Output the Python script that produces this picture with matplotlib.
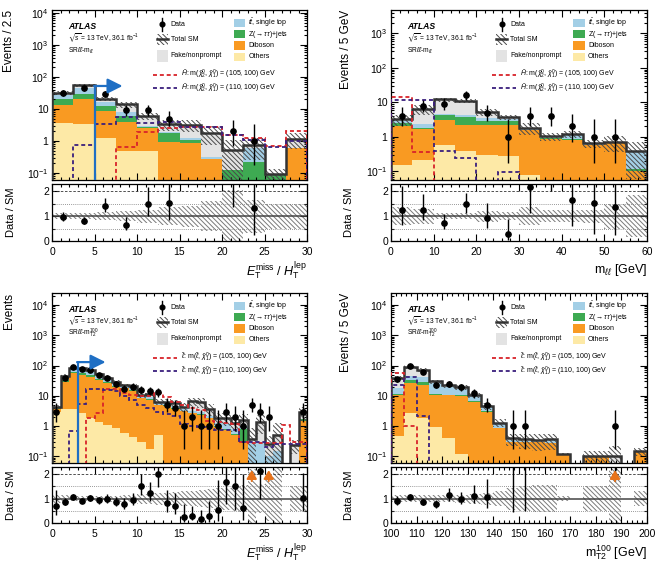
import numpy as np
import matplotlib
matplotlib.use('Agg')
import matplotlib.pyplot as plt
from matplotlib.patches import Rectangle
from matplotlib.ticker import MultipleLocator, LogLocator, NullFormatter, FixedLocator, FuncFormatter

plt.rcParams['font.family'] = ['Liberation Sans', 'DejaVu Sans']
plt.rcParams['mathtext.fontset'] = 'custom'
plt.rcParams['mathtext.rm'] = 'Liberation Sans'
plt.rcParams['mathtext.it'] = 'Liberation Sans:italic'
plt.rcParams['mathtext.bf'] = 'Liberation Sans:bold'
plt.rcParams['mathtext.fallback'] = 'stixsans'
plt.rcParams['hatch.linewidth'] = 0.7

# ---------------- data ----------------
# Panel 1: SRll-mll, ETmiss/HTlep
p1_edges = [0, 2.5, 5, 7.5, 10, 12.5, 15, 17.5, 20, 22.5, 25, 27.5, 30]
p1_others = [3.6, 3.3, 1.2, 0.5, 0.5, 0, 0, 0, 0, 0, 0, 0]
p1_diboson = [10, 16.7, 7.6, 3.5, 2.0, 0.95, 0.85, 0.27, 0, 0, 0, 0.6]
p1_ztt = [7, 9.5, 3.7, 2.2, 0.2, 0.8, 0.22, 0, 0.12, 0.22, 0.09, 0]
p1_ttbar = [6.4, 15, 4.5, 1.7, 0.3, 0.15, 0.2, 0.05, 0, 0.4, 0, 0]
p1_fake = [5, 10, 3.5, 5.9, 3.0, 1.4, 1.9, 1.5, 0.4, 0.13, 0, 0.55]
p1_unc = [0.12, 0.12, 0.15, 0.2, 0.27, 0.37, 0.42, 0.6, 1.07, 0.67, 0.5, 0.5]
p1_data = [31, 44, 29, 9, 9, 5, 0, 0, 2, 1, 0, 0]
p1_sig105 = [0, 0, 0, 0.65, 1.85, 2.6, 2.8, 2.7, 1.5, 1.2, 0.7, 2.0]
p1_sig110 = [0, 0.75, 3.3, 5.5, 3.7, 4.0, 2.8, 2.8, 1.5, 1.1, 0.65, 1.0]

# Panel 2: SRll-mll, mll
p2_edges = [0, 5, 10, 15, 20, 25, 30, 35, 40, 45, 50, 55, 60]
p2_others = [0.15, 0.21, 0.6, 0.38, 0.3, 0.27, 0.08, 0, 0, 0, 0, 0]
p2_diboson = [1.85, 1.5, 2.5, 1.9, 1.9, 1.9, 1.5, 0.85, 0.8, 0.6, 0.65, 0.1]
p2_ztt = [0.6, 0.1, 1.2, 1.6, 0.6, 0.8, 0.05, 0.08, 0.05, 0, 0, 0.02]
p2_ttbar = [0.2, 0.5, 0.3, 0.4, 0.7, 0.3, 0.22, 0.1, 0.35, 0.05, 0.07, 0.27]
p2_fake = [0.4, 4.0, 7.6, 6.5, 1.9, 0.5, 0, 0, 0, 0, 0, 0]
p2_unc = [0.37, 0.3, 0.13, 0.13, 0.23, 0.17, 0.37, 0.25, 0.25, 0.27, 0.5, 0.85]
p2_data = [4, 8, 9, 16, 5, 1, 4, 4, 2, 1, 1, 0]
p2_sig105 = [14, 0.36, 0, 0, 0, 0, 0, 0, 0, 0, 0, 0]
p2_sig110 = [12, 12, 0.38, 0.25, 0, 0.093, 0, 0, 0, 0, 0, 0]

# Panel 3: SRll-mT2, ETmiss/HTlep
p3_edges = list(range(0, 31))
p3_others = [3.0, 3.8, 3.8, 2.6, 1.8, 1.4, 1.1, 0.85, 0.6, 0.44, 0.29, 0.18, 0.5, 0, 0,
             0, 0, 0, 0, 0, 0, 0, 0, 0, 0, 0, 0, 0, 0, 0]
p3_diboson = [0.7, 25, 51, 46, 41, 31.5, 25, 19, 17, 14, 8, 7, 4.3, 4.6, 3.7,
              3.1, 2.6, 2.4, 1.8, 0.95, 0.74, 0.5, 0.3, 0.03, 0.05, 0, 0.05, 0, 0, 1.5]
p3_ztt = [0.5, 4, 8, 6, 5, 3, 2, 1.5, 1, 1, 0.4, 0.4, 0.2, 0.2, 0.2,
          0.1, 0.1, 0.1, 0.05, 0.05, 0.05, 0.05, 0.5, 0, 0, 0, 0, 0, 0, 0.2]
p3_ttbar = [0.1, 7, 15, 17, 14, 10, 8, 5, 2.4, 3, 1, 1.3, 0.7, 0.6, 0.7,
            0.4, 0.5, 0.4, 0.35, 0.3, 0.4, 0.25, 0.2, 0.25, 0.25, 0.1, 0.1, 0, 0.05, 0]
p3_fake = [0.1, 5, 8, 10, 7, 7, 4, 3, 1, 2.5, 0.8, 2.3, 0.7, 0.8, 1.2,
           0.7, 3.3, 3.3, 1.5, 0.55, 0.61, 0.5, 0.64, 0.1, 1.1, 0.15, 0.35, 0, 0.18, 1.2]
p3_unc = [0.17, 0.13, 0.1, 0.1, 0.1, 0.1, 0.12, 0.12, 0.13, 0.15, 0.2, 0.2, 0.25, 0.25, 0.28,
          0.3, 0.3, 0.35, 0.4, 0.45, 0.45, 0.5, 0.55, 1.2, 0.6, 0.9, 1.5, 0, 0.5, 0.5]
p3_data = [3, 39, 90, 75, 71, 49, 40, 25, 17, 20, 16, 14, 13, 5, 4,
           1, 2, 1, 1, 1, 3, 2, 1, 5, 3, 2, 0, 0, 0, 3]
p3_sig105 = [0, 0, 0, 0, 1.8, 2.6, 17, 17, 12, 11, 10, 10, 12, 9, 6,
             5, 4, 3.5, 1.5, 1.4, 1.3, 1.2, 0.3, 0.27, 0.27, 0.27, 0.27, 1.07, 0.3, 0.3]
p3_sig110 = [0, 0, 0.68, 5.3, 17, 17, 15, 14, 10, 7, 5, 4, 3, 2.5, 2.2,
             1.2, 1.0, 0.9, 0.8, 0.75, 0.75, 0.75, 0.29, 0.29, 0.29, 0.2, 0.25, 0.25, 0.25, 0.25]

# Panel 4: SRll-mT2, mT2^100
p4_edges = list(range(100, 205, 5))
p4_others = [0.47, 2.8, 1.8, 0.95, 0.4, 0.12, 0, 0, 0, 0, 0, 0, 0, 0, 0, 0, 0, 0, 0, 0]
p4_diboson = [10, 23, 21, 9.7, 10, 10, 6.4, 3, 0.85, 0.3, 0.3, 0.3, 0.27, 0.12, 0, 0.1, 0.1, 0, 0, 0.15]
p4_ztt = [1, 7, 6, 0.8, 0.5, 0.3, 0.2, 0.1, 0, 0, 0, 0, 0, 0, 0, 0, 0, 0, 0, 0]
p4_ttbar = [7, 12, 12, 15, 9, 6, 3.3, 1.3, 0.35, 0.05, 0.03, 0.02, 0.09, 0, 0, 0, 0, 0, 0, 0]
p4_fake = [20, 48, 29, 3.5, 2, 2.5, 0.8, 0.2, 0.1, 0.04, 0.03, 0.02, 0, 0, 0, 0, 0, 0.1, 0, 0]
p4_unc = [0.15, 0.15, 0.15, 0.15, 0.15, 0.17, 0.2, 0.25, 0.3, 0.45, 0.5, 0.55, 0.55, 0.1, 0,
          0.5, 0.5, 1.2, 1.2, 0.3]
p4_data = [35, 100, 60, 23, 25, 19, 12, 5, 0, 1, 1, 0, 0, 0, 0, 0, 0, 1, 0, 0]
p4_sig105 = [58, 1.0, 0, 0, 0, 0, 0, 0, 0, 0, 0, 0, 0, 0, 0, 0, 0, 0, 0, 0]
p4_sig110 = [23, 41, 2.1, 0, 0, 0, 0, 0, 0, 0, 0, 0, 0, 0, 0, 0, 0, 0, 0, 0]

# ---------------- style ----------------
C_OTH = '#fde9a6'
C_DIB = '#f99a22'
C_ZTT = '#3eaa52'
C_TTB = '#a3cfe6'
C_FAKE = '#e3e3e3'
C_RED = '#d8232a'
C_PUR = '#3a1f7d'
C_BLUE = '#1f6fc4'
HATCH = '\\' * 7

W, H = 656, 567
fig = plt.figure(figsize=(W / 100, H / 100), dpi=100)


def fbox(x0, y0, x1, y1):
    return [x0 / W, 1 - y1 / H, (x1 - x0) / W, (y1 - y0) / H]


def step_xy(edges, vals):
    e = np.asarray(edges, float)
    v = np.asarray(vals, float)
    x = np.repeat(e, 2)[1:-1]
    y = np.repeat(v, 2)
    return x, y


def garwood(n):
    n = np.asarray(n, float)
    nn = np.maximum(n, 1)
    lo = np.where(n > 0, nn * (1 - 1 / (9 * nn) - 1 / (3 * np.sqrt(nn))) ** 3, 0)
    m = n + 1
    hi = m * (1 - 1 / (9 * m) + 1 / (3 * np.sqrt(m))) ** 3
    return lo, hi


def log_fmt(v, pos):
    e = int(round(np.log10(v)))
    if e == 0:
        return '1'
    if e == 1:
        return '10'
    return r'10$^{%d}$' % e


def draw_panel(main_box, ratio_box, edges, comps, unc, data, sig105, sig110, ylim,
               xmaj, xmin, xlabel, ylabel, region, sig_kind, arrow=None, ratio_arrows=False,
               ylab_x=(8, 11), xlab_y=270):
    edges = np.asarray(edges, float)
    ax = fig.add_axes(main_box)
    rx = fig.add_axes(ratio_box)
    floor = 1e-5
    bottom = np.zeros(len(edges) - 1)
    for vals, col in zip(comps, [C_OTH, C_DIB, C_ZTT, C_TTB, C_FAKE]):
        top = bottom + np.asarray(vals, float)
        x, ylo = step_xy(edges, np.maximum(bottom, floor))
        _, yhi = step_xy(edges, np.maximum(top, floor))
        ax.fill_between(x, ylo, yhi, facecolor=col, linewidth=0, zorder=1)
        bottom = top
    total = bottom
    u = np.asarray(unc, float)
    x, blo = step_xy(edges, np.maximum(total * (1 - u), floor))
    _, bhi = step_xy(edges, np.maximum(total * (1 + u), floor))
    ax.fill_between(x, blo, bhi, facecolor='none', edgecolor='#4a4a4a', hatch=HATCH,
                    linewidth=0, zorder=2)
    ax.stairs(np.maximum(total, floor), edges, color='#333333', linewidth=1.8, zorder=3)
    ax.stairs(np.maximum(np.asarray(sig105, float), floor), edges, baseline=floor,
              color=C_RED, linestyle=(0, (2.2, 1.6)), linewidth=1.3, zorder=4)
    ax.stairs(np.maximum(np.asarray(sig110, float), floor), edges, baseline=floor,
              color=C_PUR, linestyle=(0, (2.2, 1.6)), linewidth=1.3, zorder=4)
    d = np.asarray(data, float)
    centers = 0.5 * (edges[1:] + edges[:-1])
    lo, hi = garwood(d)
    m = d > 0
    ax.errorbar(centers[m], d[m], yerr=[d[m] - lo[m], hi[m] - d[m]], fmt='o', color='black',
                ms=3.8, elinewidth=1.0, capsize=0, zorder=6)
    if arrow is not None:
        ax0, ax1, ay = arrow
        ax.plot([ax0, ax0], [ylim[0], ay], color=C_BLUE, lw=1.6, zorder=7, solid_capstyle='butt')
        ax.annotate('', xy=(ax1, ay), xytext=(ax0 - 0.05, ay),
                    arrowprops=dict(arrowstyle='-|>,head_length=0.9,head_width=0.45',
                                    color=C_BLUE, lw=1.6, shrinkA=0, shrinkB=0), zorder=7)
    ax.set_yscale('log')
    ax.set_ylim(*ylim)
    ax.set_xlim(edges[0], edges[-1])
    ax.yaxis.set_major_locator(LogLocator(base=10, numticks=20))
    ax.yaxis.set_minor_locator(LogLocator(base=10, subs=np.arange(2, 10), numticks=100))
    ax.yaxis.set_major_formatter(FuncFormatter(log_fmt))
    ax.yaxis.set_minor_formatter(NullFormatter())
    for a in (ax, rx):
        a.xaxis.set_major_locator(MultipleLocator(xmaj))
        a.xaxis.set_minor_locator(MultipleLocator(xmin))
        a.tick_params(which='both', direction='in', top=True, right=True, labelsize=7.5,
                      width=0.8, pad=2.5)
        a.tick_params(which='major', length=5)
        a.tick_params(which='minor', length=2.5)
        for s in a.spines.values():
            s.set_linewidth(0.9)
    ax.tick_params(labelbottom=False)
    rx.tick_params(axis='x', pad=4.6)
    rx.tick_params(axis='y', pad=2.0)

    # ratio
    with np.errstate(divide='ignore', invalid='ignore'):
        x, rlo = step_xy(edges, np.where(total > 0, 1 - u, 1))
        _, rhi = step_xy(edges, np.where(total > 0, 1 + u, 1))
        rx.fill_between(x, rlo, rhi, facecolor='none', edgecolor='#7a7a7a', hatch=HATCH,
                        linewidth=0, zorder=1)
        rx.axhline(1, color='#444444', lw=1.1, zorder=2)
        rx.axhline(2, color='#333333', lw=0.6, ls=(0, (3, 2)), zorder=2)
        rx.axhline(1.5, color='#777777', lw=0.6, ls=(0, (1, 1.5)), zorder=2)
        rx.axhline(0.5, color='#777777', lw=0.6, ls=(0, (1, 1.5)), zorder=2)
        mr = (d > 0) & (total > 0)
        r = d[mr] / total[mr]
        rlo_e = (d[mr] - lo[mr]) / total[mr]
        rhi_e = (hi[mr] - d[mr]) / total[mr]
        rx.errorbar(centers[mr], r, yerr=[rlo_e, rhi_e], fmt='o', color='black', ms=3.8,
                    elinewidth=1.0, capsize=0, zorder=4)
        if ratio_arrows:
            lower = lo[mr] / total[mr]
            for cx, rv, lv in zip(centers[mr], r, lower):
                if rv > 2.3 and lv > 1.5:
                    rx.annotate('', xy=(cx, 2.17), xytext=(cx, 1.72),
                                arrowprops=dict(arrowstyle='-|>,head_length=0.5,head_width=0.3',
                                                color='#e8731a', lw=1.4, shrinkA=0, shrinkB=0),
                                zorder=5)
    rx.set_xlim(edges[0], edges[-1])
    rx.set_ylim(0, 2.3)
    rx.yaxis.set_major_locator(FixedLocator([0, 1, 2]))
    rx.yaxis.set_minor_locator(MultipleLocator(0.5))

    # labels
    mb = main_box
    rb = ratio_box
    fig.text(ylab_x[0] / W, mb[1] + mb[3], ylabel, rotation=90, ha='center', va='top', fontsize=8.5)
    fig.text(ylab_x[1] / W, rb[1] + rb[3] / 2, 'Data / SM', rotation=90, ha='center', va='center',
             fontsize=8)
    fig.text(mb[0] + mb[2], 1 - xlab_y / H, xlabel, ha='right', va='center', fontsize=9)

    # in-plot text
    t = ax.transAxes
    ax.text(0.063, 0.905, 'ATLAS', transform=t, fontsize=6.2, fontweight='bold', style='italic',
            va='center')
    ax.text(0.063, 0.83, r'$\sqrt{s}$ = 13 TeV, 36.1 fb$^{-1}$', transform=t, fontsize=4.8,
            va='center')
    ax.text(0.063, 0.76, region, transform=t, fontsize=4.8, va='center')
    fs = 5.0
    # left legend column
    ax.plot([0.432], [0.915], 'o', color='black', ms=3.4, transform=t, clip_on=False, zorder=10)
    ax.plot([0.432, 0.432], [0.875, 0.955], color='black', lw=1.0, transform=t, zorder=10)
    ax.text(0.465, 0.915, 'Data', transform=t, fontsize=fs, va='center')
    ax.add_patch(Rectangle((0.41, 0.795), 0.045, 0.065, transform=t, facecolor='white',
                           edgecolor='#4a4a4a', hatch=HATCH, linewidth=0, zorder=10))
    ax.plot([0.41, 0.455], [0.8275, 0.8275], color='#333333', lw=1.8, transform=t, zorder=11)
    ax.text(0.465, 0.8275, 'Total SM', transform=t, fontsize=fs, va='center')
    ax.add_patch(Rectangle((0.41, 0.695), 0.045, 0.07, transform=t, facecolor=C_FAKE,
                           linewidth=0, zorder=10))
    ax.text(0.465, 0.73, 'Fake/nonprompt', transform=t, fontsize=fs, va='center')
    # right legend column
    labs = [r'$t\bar{t}$, single top', r'Z($\rightarrow\tau\tau$)+jets', 'Diboson', 'Others']
    cols = [C_TTB, C_ZTT, C_DIB, C_OTH]
    for i, (lab, col) in enumerate(zip(labs, cols)):
        yy = 0.925 - i * 0.067
        ax.add_patch(Rectangle((0.712, yy - 0.024), 0.046, 0.048, transform=t, facecolor=col,
                               linewidth=0, zorder=10))
        ax.text(0.77, yy, lab, transform=t, fontsize=fs, va='center')
    # signal legend
    if sig_kind == 'H':
        sl = [r'$\tilde{H}$: m($\tilde{\chi}^{0}_{2}$, $\tilde{\chi}^{0}_{1}$) = (105, 100) GeV',
              r'$\tilde{H}$: m($\tilde{\chi}^{0}_{2}$, $\tilde{\chi}^{0}_{1}$) = (110, 100) GeV']
    else:
        sl = [r'$\tilde{\ell}$: m($\tilde{\ell}$, $\tilde{\chi}^{0}_{1}$) = (105, 100) GeV',
              r'$\tilde{\ell}$: m($\tilde{\ell}$, $\tilde{\chi}^{0}_{1}$) = (110, 100) GeV']
    for yy, col, lab in zip([0.62, 0.54], [C_RED, C_PUR], sl):
        ax.plot([0.395, 0.49], [yy, yy], color=col, lw=1.3, ls=(0, (2.2, 1.6)), transform=t,
                zorder=10)
        ax.text(0.505, yy, lab, transform=t, fontsize=fs, va='center')
    return ax, rx


def comps_of(o, d, z, t, f):
    return [o, d, z, t, f]


draw_panel(fbox(52, 10, 307, 180), fbox(52, 184, 307, 241), p1_edges,
           comps_of(p1_others, p1_diboson, p1_ztt, p1_ttbar, p1_fake), p1_unc, p1_data,
           p1_sig105, p1_sig110, (0.06, 12300), 5, 1,
           r'$E_{\mathrm{T}}^{\mathrm{miss}}$ / $H_{\mathrm{T}}^{\mathrm{lep}}$',
           'Events / 2.5', r'SR$\ell\ell$-m$_{\ell\ell}$', 'H', arrow=(5, 8.3, 52),
           ylab_x=(9, 11), xlab_y=271)

draw_panel(fbox(391, 10, 647, 180), fbox(391, 184, 647, 241), p2_edges,
           comps_of(p2_others, p2_diboson, p2_ztt, p2_ttbar, p2_fake), p2_unc, p2_data,
           p2_sig105, p2_sig110, (0.056, 4800), 10, 2,
           r'm$_{\ell\ell}$ [GeV]',
           'Events / 5 GeV', r'SR$\ell\ell$-m$_{\ell\ell}$', 'H',
           ylab_x=(346, 349), xlab_y=270)

draw_panel(fbox(52, 293, 307, 463), fbox(52, 467, 307, 523), p3_edges,
           comps_of(p3_others, p3_diboson, p3_ztt, p3_ttbar, p3_fake), p3_unc, p3_data,
           p3_sig105, p3_sig110, (0.06, 25000), 5, 1,
           r'$E_{\mathrm{T}}^{\mathrm{miss}}$ / $H_{\mathrm{T}}^{\mathrm{lep}}$',
           'Events', r'SR$\ell\ell$-m$_{\mathrm{T2}}^{100}$', 'L', arrow=(3, 6.3, 130),
           ratio_arrows=True, ylab_x=(9, 11), xlab_y=553)

draw_panel(fbox(391, 293, 647, 463), fbox(391, 467, 647, 523), p4_edges,
           comps_of(p4_others, p4_diboson, p4_ztt, p4_ttbar, p4_fake), p4_unc, p4_data,
           p4_sig105, p4_sig110, (0.06, 25000), 10, 2,
           r'm$_{\mathrm{T2}}^{100}$ [GeV]',
           'Events / 5 GeV', r'SR$\ell\ell$-m$_{\mathrm{T2}}^{100}$', 'L',
           ratio_arrows=True, ylab_x=(346, 349), xlab_y=553)

fig.savefig('out.png', dpi=100)
